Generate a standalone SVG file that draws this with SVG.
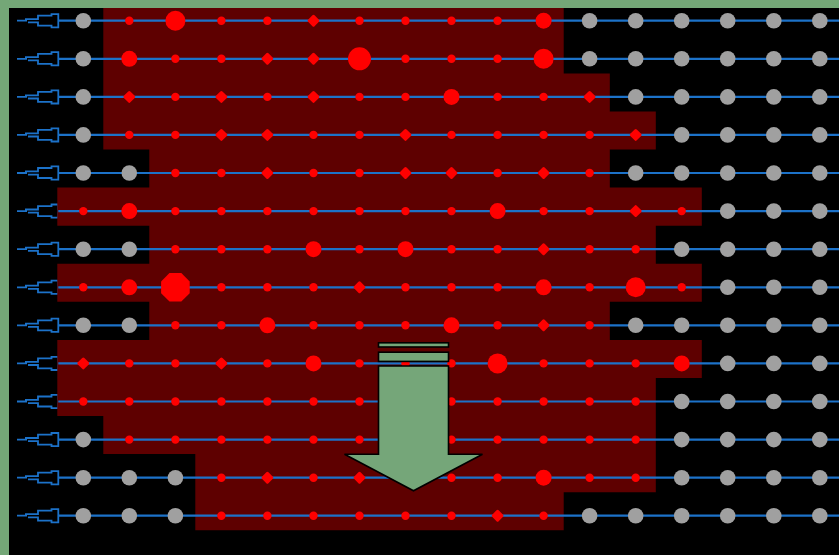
<svg xmlns="http://www.w3.org/2000/svg" xmlns:xlink="http://www.w3.org/1999/xlink" width="839" height="555" viewBox="0 0 839 555">
<style>
.pin{fill:none;stroke:#1c72c9;stroke-width:1.8}
.wire{stroke:#1c72c9;stroke-width:2.2}
.gray{fill:#a0a0a0}
.red{fill:#ff0000}
.arrow{fill:#75a679;stroke:#000;stroke-width:1.6;stroke-linejoin:miter}
</style>
<defs>
<path id="pin" class="pin" d="M17,0 H27 M25,-1.6 H38 V-5 H51.5 V-6.6 H58.3 V6.6 H51.5 V5 H38 V1.6 H28"/>
<circle id="g" class="gray" r="7.8"/>
<circle id="s" class="red" r="4.2"/>
<rect id="d" class="red" x="-4.6" y="-4.6" width="9.2" height="9.2" rx="1.5" transform="rotate(45)"/>
<circle id="m" class="red" r="8"/>
<circle id="l" class="red" r="10"/>
<circle id="L" class="red" r="11.5"/>
<polygon id="x" class="red" points="5.9,-14.3 14.3,-5.9 14.3,5.9 5.9,14.3 -5.9,14.3 -14.3,5.9 -14.3,-5.9 -5.9,-14.3"/>
</defs>
<rect width="839" height="555" fill="#000"/>
<g id="pins">
<use href="#pin" y="20.7"/><use href="#pin" y="58.8"/><use href="#pin" y="96.9"/><use href="#pin" y="134.9"/>
<use href="#pin" y="173"/><use href="#pin" y="211.1"/><use href="#pin" y="249.2"/><use href="#pin" y="287.3"/>
<use href="#pin" y="325.3"/><use href="#pin" y="363.4"/><use href="#pin" y="401.5"/><use href="#pin" y="439.6"/>
<use href="#pin" y="477.7"/><use href="#pin" y="515.7"/>
</g>
<path id="region" fill="#5e0000" d="M103.3,0 H563.7 V73.4 H609.8 V111.4 H655.8 V149.5 H609.8 V187.6 H701.8 V225.7 H655.8 V263.8 H701.8 V301.8 H609.8 V339.9 H701.8 V378 H655.8 V492.2 H563.7 V530.3 H195.3 V454.1 H103.3 V416.1 H57.3 V339.9 H149.3 V301.8 H57.3 V263.8 H149.3 V225.7 H57.3 V187.6 H149.3 V149.5 H103.3 Z"/>
<g id="connectors">
<line class="wire" x1="58.3" x2="839" y1="20.7" y2="20.7"/>
<line class="wire" x1="58.3" x2="839" y1="58.8" y2="58.8"/>
<line class="wire" x1="58.3" x2="839" y1="96.9" y2="96.9"/>
<line class="wire" x1="58.3" x2="839" y1="134.9" y2="134.9"/>
<line class="wire" x1="58.3" x2="839" y1="173" y2="173"/>
<line class="wire" x1="58.3" x2="839" y1="211.1" y2="211.1"/>
<line class="wire" x1="58.3" x2="839" y1="249.2" y2="249.2"/>
<line class="wire" x1="58.3" x2="839" y1="287.3" y2="287.3"/>
<line class="wire" x1="58.3" x2="839" y1="325.3" y2="325.3"/>
<line class="wire" x1="58.3" x2="839" y1="363.4" y2="363.4"/>
<line class="wire" x1="58.3" x2="839" y1="401.5" y2="401.5"/>
<line class="wire" x1="58.3" x2="839" y1="439.6" y2="439.6"/>
<line class="wire" x1="58.3" x2="839" y1="477.7" y2="477.7"/>
<line class="wire" x1="58.3" x2="839" y1="515.7" y2="515.7"/>
</g>
<g id="row1" transform="translate(0,20.7)">
<use href="#g" x="83.3"/><use href="#s" x="129.3"/><use href="#l" x="175.4"/><use href="#s" x="221.4"/><use href="#s" x="267.4"/><use href="#d" x="313.5"/><use href="#s" x="359.5"/><use href="#s" x="405.5"/><use href="#s" x="451.5"/><use href="#s" x="497.6"/><use href="#m" x="543.6"/><use href="#g" x="589.6"/><use href="#g" x="635.7"/><use href="#g" x="681.7"/><use href="#g" x="727.7"/><use href="#g" x="773.8"/><use href="#g" x="819.8"/>
</g>
<g id="row2" transform="translate(0,58.8)">
<use href="#g" x="83.3"/><use href="#m" x="129.3"/><use href="#s" x="175.4"/><use href="#s" x="221.4"/><use href="#d" x="267.4"/><use href="#d" x="313.5"/><use href="#L" x="359.5"/><use href="#s" x="405.5"/><use href="#s" x="451.5"/><use href="#s" x="497.6"/><use href="#l" x="543.6"/><use href="#g" x="589.6"/><use href="#g" x="635.7"/><use href="#g" x="681.7"/><use href="#g" x="727.7"/><use href="#g" x="773.8"/><use href="#g" x="819.8"/>
</g>
<g id="row3" transform="translate(0,96.9)">
<use href="#g" x="83.3"/><use href="#d" x="129.3"/><use href="#s" x="175.4"/><use href="#d" x="221.4"/><use href="#s" x="267.4"/><use href="#d" x="313.5"/><use href="#s" x="359.5"/><use href="#s" x="405.5"/><use href="#m" x="451.5"/><use href="#s" x="497.6"/><use href="#s" x="543.6"/><use href="#d" x="589.6"/><use href="#g" x="635.7"/><use href="#g" x="681.7"/><use href="#g" x="727.7"/><use href="#g" x="773.8"/><use href="#g" x="819.8"/>
</g>
<g id="row4" transform="translate(0,134.9)">
<use href="#g" x="83.3"/><use href="#s" x="129.3"/><use href="#s" x="175.4"/><use href="#d" x="221.4"/><use href="#d" x="267.4"/><use href="#s" x="313.5"/><use href="#s" x="359.5"/><use href="#d" x="405.5"/><use href="#s" x="451.5"/><use href="#s" x="497.6"/><use href="#s" x="543.6"/><use href="#s" x="589.6"/><use href="#d" x="635.7"/><use href="#g" x="681.7"/><use href="#g" x="727.7"/><use href="#g" x="773.8"/><use href="#g" x="819.8"/>
</g>
<g id="row5" transform="translate(0,173)">
<use href="#g" x="83.3"/><use href="#g" x="129.3"/><use href="#s" x="175.4"/><use href="#s" x="221.4"/><use href="#d" x="267.4"/><use href="#s" x="313.5"/><use href="#s" x="359.5"/><use href="#d" x="405.5"/><use href="#d" x="451.5"/><use href="#s" x="497.6"/><use href="#d" x="543.6"/><use href="#s" x="589.6"/><use href="#g" x="635.7"/><use href="#g" x="681.7"/><use href="#g" x="727.7"/><use href="#g" x="773.8"/><use href="#g" x="819.8"/>
</g>
<g id="row6" transform="translate(0,211.1)">
<use href="#s" x="83.3"/><use href="#m" x="129.3"/><use href="#s" x="175.4"/><use href="#s" x="221.4"/><use href="#s" x="267.4"/><use href="#s" x="313.5"/><use href="#s" x="359.5"/><use href="#s" x="405.5"/><use href="#s" x="451.5"/><use href="#m" x="497.6"/><use href="#s" x="543.6"/><use href="#s" x="589.6"/><use href="#d" x="635.7"/><use href="#s" x="681.7"/><use href="#g" x="727.7"/><use href="#g" x="773.8"/><use href="#g" x="819.8"/>
</g>
<g id="row7" transform="translate(0,249.2)">
<use href="#g" x="83.3"/><use href="#g" x="129.3"/><use href="#s" x="175.4"/><use href="#s" x="221.4"/><use href="#s" x="267.4"/><use href="#m" x="313.5"/><use href="#s" x="359.5"/><use href="#m" x="405.5"/><use href="#s" x="451.5"/><use href="#s" x="497.6"/><use href="#d" x="543.6"/><use href="#s" x="589.6"/><use href="#s" x="635.7"/><use href="#g" x="681.7"/><use href="#g" x="727.7"/><use href="#g" x="773.8"/><use href="#g" x="819.8"/>
</g>
<g id="row8" transform="translate(0,287.3)">
<use href="#s" x="83.3"/><use href="#m" x="129.3"/><use href="#x" x="175.4"/><use href="#s" x="221.4"/><use href="#s" x="267.4"/><use href="#s" x="313.5"/><use href="#d" x="359.5"/><use href="#s" x="405.5"/><use href="#s" x="451.5"/><use href="#s" x="497.6"/><use href="#m" x="543.6"/><use href="#s" x="589.6"/><use href="#l" x="635.7"/><use href="#s" x="681.7"/><use href="#g" x="727.7"/><use href="#g" x="773.8"/><use href="#g" x="819.8"/>
</g>
<g id="row9" transform="translate(0,325.3)">
<use href="#g" x="83.3"/><use href="#g" x="129.3"/><use href="#s" x="175.4"/><use href="#s" x="221.4"/><use href="#m" x="267.4"/><use href="#s" x="313.5"/><use href="#s" x="359.5"/><use href="#s" x="405.5"/><use href="#m" x="451.5"/><use href="#s" x="497.6"/><use href="#d" x="543.6"/><use href="#s" x="589.6"/><use href="#g" x="635.7"/><use href="#g" x="681.7"/><use href="#g" x="727.7"/><use href="#g" x="773.8"/><use href="#g" x="819.8"/>
</g>
<g id="row10" transform="translate(0,363.4)">
<use href="#d" x="83.3"/><use href="#s" x="129.3"/><use href="#s" x="175.4"/><use href="#d" x="221.4"/><use href="#s" x="267.4"/><use href="#m" x="313.5"/><use href="#s" x="359.5"/><use href="#s" x="405.5"/><use href="#s" x="451.5"/><use href="#l" x="497.6"/><use href="#s" x="543.6"/><use href="#s" x="589.6"/><use href="#s" x="635.7"/><use href="#m" x="681.7"/><use href="#g" x="727.7"/><use href="#g" x="773.8"/><use href="#g" x="819.8"/>
</g>
<g id="row11" transform="translate(0,401.5)">
<use href="#s" x="83.3"/><use href="#s" x="129.3"/><use href="#s" x="175.4"/><use href="#s" x="221.4"/><use href="#s" x="267.4"/><use href="#s" x="313.5"/><use href="#s" x="359.5"/><use href="#s" x="405.5"/><use href="#s" x="451.5"/><use href="#s" x="497.6"/><use href="#s" x="543.6"/><use href="#s" x="589.6"/><use href="#s" x="635.7"/><use href="#g" x="681.7"/><use href="#g" x="727.7"/><use href="#g" x="773.8"/><use href="#g" x="819.8"/>
</g>
<g id="row12" transform="translate(0,439.6)">
<use href="#g" x="83.3"/><use href="#s" x="129.3"/><use href="#s" x="175.4"/><use href="#s" x="221.4"/><use href="#s" x="267.4"/><use href="#s" x="313.5"/><use href="#s" x="359.5"/><use href="#s" x="405.5"/><use href="#s" x="451.5"/><use href="#s" x="497.6"/><use href="#s" x="543.6"/><use href="#s" x="589.6"/><use href="#s" x="635.7"/><use href="#g" x="681.7"/><use href="#g" x="727.7"/><use href="#g" x="773.8"/><use href="#g" x="819.8"/>
</g>
<g id="row13" transform="translate(0,477.7)">
<use href="#g" x="83.3"/><use href="#g" x="129.3"/><use href="#g" x="175.4"/><use href="#s" x="221.4"/><use href="#d" x="267.4"/><use href="#s" x="313.5"/><use href="#d" x="359.5"/><use href="#s" x="405.5"/><use href="#s" x="451.5"/><use href="#s" x="497.6"/><use href="#m" x="543.6"/><use href="#s" x="589.6"/><use href="#s" x="635.7"/><use href="#g" x="681.7"/><use href="#g" x="727.7"/><use href="#g" x="773.8"/><use href="#g" x="819.8"/>
</g>
<g id="row14" transform="translate(0,515.7)">
<use href="#g" x="83.3"/><use href="#g" x="129.3"/><use href="#g" x="175.4"/><use href="#s" x="221.4"/><use href="#s" x="267.4"/><use href="#s" x="313.5"/><use href="#s" x="359.5"/><use href="#s" x="405.5"/><use href="#s" x="451.5"/><use href="#d" x="497.6"/><use href="#s" x="543.6"/><use href="#g" x="589.6"/><use href="#g" x="635.7"/><use href="#g" x="681.7"/><use href="#g" x="727.7"/><use href="#g" x="773.8"/><use href="#g" x="819.8"/>
</g>
<g id="arrow">
<rect class="arrow" x="378.5" y="342.8" width="70" height="4.2"/>
<rect class="arrow" x="378.5" y="352.2" width="70" height="9.2"/>
<path class="arrow" d="M378.5,366 H448.5 V454.3 H482.5 L413.5,490.8 L344.5,454.3 H378.5 Z"/>
</g>
<g id="border" fill="#74a777">
<rect x="0" y="0" width="839" height="8"/>
<rect x="0" y="0" width="9" height="555"/>
</g>
</svg>
